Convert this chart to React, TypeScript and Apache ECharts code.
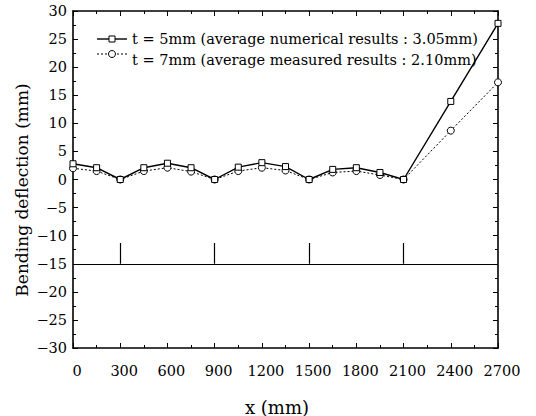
import React, { useEffect, useRef } from "react";
import * as echarts from "echarts";

// Data
const xPositions = [0, 150, 300, 450, 600, 750, 900, 1050, 1200, 1350, 1500, 1650, 1800, 1950, 2100, 2400, 2700];
const numerical5mm = [2.8, 2.1, 0, 2.1, 2.9, 2.1, 0, 2.2, 3.0, 2.3, 0, 1.8, 2.1, 1.25, 0, 13.9, 27.8];
const measured7mm = [2.0, 1.5, 0, 1.5, 2.1, 1.4, 0, 1.5, 2.1, 1.6, 0, 1.25, 1.5, 0.8, 0, 8.7, 17.3];
const supports = [300, 900, 1500, 2100];
const supportBase = -15;
const supportTop = -11.3;
const beamExtent = [0, 2700];

const legend5 = "t = 5mm (average numerical results : 3.05mm)";
const legend7 = "t = 7mm (average measured results : 2.10mm)";
const yName = "Bending deflection (mm)";
const xName = "x (mm)";

const FONT = "'DejaVu Serif', serif";

export default function App() {
  const ref = useRef<HTMLDivElement>(null);
  useEffect(() => {
    if (!ref.current) return;
    const chart = echarts.init(ref.current, undefined, { renderer: "svg" });
    const minus = (v: any) => String(v).replace("-", "\u2212");
    const axisCommon = {
      axisLine: { show: true, onZero: false, lineStyle: { color: "#000", width: 1.6 } },
      axisTick: { show: true, inside: true, length: 5, lineStyle: { color: "#000", width: 1 } },
      minorTick: { show: true, splitNumber: 2, length: 3, lineStyle: { color: "#000", width: 1 } },
      splitLine: { show: false },
      minorSplitLine: { show: false },
    };
    const xBase = { type: "value", min: 0, max: 2700, interval: 300, ...axisCommon };
    const yBase = { type: "value", min: -30, max: 30, interval: 5, ...axisCommon };
    chart.setOption({
      animation: false,
      backgroundColor: "#fff",
      grid: { left: 73, right: 38, top: 11, bottom: 68, containLabel: false },
      xAxis: [
        {
          ...xBase,
          position: "bottom",
          axisLabel: {
            color: "#000",
            fontFamily: FONT,
            fontSize: 14.5,
            margin: 15,
            padding: [0, 0, 0, 8],
            formatter: minus,
          },
        },
        { ...xBase, position: "top", axisLabel: { show: false } },
      ],
      yAxis: [
        {
          ...yBase,
          position: "left",
          axisLabel: {
            color: "#000",
            fontFamily: FONT,
            fontSize: 14.5,
            margin: 6,
            padding: [7, 0, 0, 0],
            formatter: minus,
          },
        },
        { ...yBase, position: "right", axisLabel: { show: false } },
      ],
      graphic: [
        { type: "line", shape: { x1: 97, y1: 39, x2: 127, y2: 39 }, style: { stroke: "#000", lineWidth: 1.4 } },
        { type: "rect", shape: { x: 109, y: 36, width: 6, height: 6 }, style: { fill: "#fff", stroke: "#000", lineWidth: 1 } },
        {
          type: "text",
          x: 132,
          y: 38.5,
          style: { text: legend5, fill: "#000", font: `14.5px ${FONT}`, verticalAlign: "middle", align: "left" },
        },
        { type: "line", shape: { x1: 97, y1: 54, x2: 127, y2: 54 }, style: { stroke: "#000", lineWidth: 1, lineDash: [2, 2] } },
        { type: "circle", shape: { cx: 112, cy: 54, r: 3.5 }, style: { fill: "#fff", stroke: "#000", lineWidth: 1 } },
        {
          type: "text",
          x: 132,
          y: 60,
          style: { text: legend7, fill: "#000", font: `14.5px ${FONT}`, verticalAlign: "middle", align: "left" },
        },
        {
          type: "text",
          x: 22,
          y: 190,
          rotation: Math.PI / 2,
          style: { text: yName, fill: "#000", font: `17px ${FONT}`, align: "center", verticalAlign: "middle" },
        },
        {
          type: "text",
          x: 277,
          y: 407,
          style: { text: xName, fill: "#000", font: `18px ${FONT}`, align: "center", verticalAlign: "middle" },
        },
      ],
      series: [
        {
          type: "lines",
          coordinateSystem: "cartesian2d",
          silent: true,
          lineStyle: { color: "#000", width: 1.2, opacity: 1 },
          data: [
            { coords: [[beamExtent[0], supportBase], [beamExtent[1], supportBase]] },
            ...supports.map((s) => ({ coords: [[s, supportBase], [s, supportTop]] })),
          ],
          z: 1,
        },
        {
          name: legend5,
          type: "line",
          data: xPositions.map((x, i) => [x, numerical5mm[i]]),
          symbol: "rect",
          symbolSize: 6,
          showAllSymbol: true,
          lineStyle: { color: "#000", width: 1.4 },
          itemStyle: { color: "#fff", borderColor: "#000", borderWidth: 1 },
          z: 3,
        },
        {
          name: legend7,
          type: "line",
          data: xPositions.map((x, i) => [x, measured7mm[i]]),
          symbol: "circle",
          symbolSize: 7,
          showAllSymbol: true,
          lineStyle: { color: "#000", width: 1, type: [2, 2] },
          itemStyle: { color: "#fff", borderColor: "#000", borderWidth: 1 },
          z: 2,
        },
      ],
    });
    return () => chart.dispose();
  }, []);
  return <div ref={ref} style={{ width: 536, height: 416, position: "absolute", left: 0, top: 0 }} />;
}
